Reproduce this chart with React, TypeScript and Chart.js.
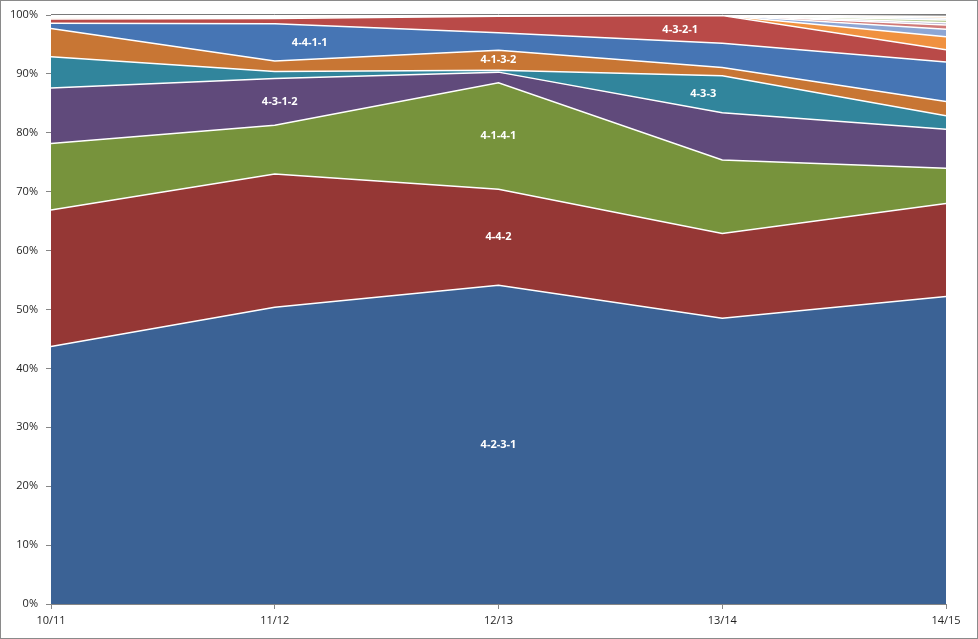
import React, { useEffect, useRef } from "react";
import { Chart, registerables } from "chart.js";

Chart.register(...registerables);

const CATEGORIES = ["10/11", "11/12", "12/13", "13/14", "14/15"];

const s4231 = [43.7, 50.4, 54.1, 48.5, 52.2];
const s442 = [23.2, 22.6, 16.3, 14.4, 15.8];
const s4141 = [11.3, 8.3, 18.1, 12.5, 6.0];
const s4312 = [9.4, 7.9, 1.8, 8.0, 6.6];
const s433 = [5.3, 1.2, 0.3, 6.3, 2.3];
const s4132 = [4.8, 1.8, 3.4, 1.4, 2.4];
const s4411 = [0.9, 6.3, 3.0, 4.1, 6.7];
const s4321 = [0.7, 0.9, 2.8, 4.7, 2.1];
const s451 = [0.2, 0.2, 0.05, 0.02, 2.2];
const s352 = [0.1, 0.1, 0.05, 0.02, 1.3];
const s343 = [0.1, 0.1, 0.03, 0.02, 0.7];
const s4222 = [0.1, 0.05, 0.03, 0.01, 0.4];
const s532 = [0.05, 0.05, 0.02, 0.01, 0.45];
const s3412 = [0.05, 0.05, 0.01, 0.01, 0.3];
const s41212 = [0.05, 0.05, 0.01, 0.01, 0.3];
const s541 = [0.05, 0.0, 0.0, 0.0, 0.25];

const SERIES_NAMES = [
  "4-2-3-1", "4-4-2", "4-1-4-1", "4-3-1-2", "4-3-3", "4-1-3-2", "4-4-1-1", "4-3-2-1",
  "4-5-1", "3-5-2", "3-4-3", "4-2-2-2", "5-3-2", "3-4-1-2", "4-1-2-1-2", "5-4-1",
];
const SERIES_VALUES = [
  s4231, s442, s4141, s4312, s433, s4132, s4411, s4321,
  s451, s352, s343, s4222, s532, s3412, s41212, s541,
];
const SERIES_COLORS = [
  "#3B6295", "#953735", "#77933C", "#604A7B", "#31859C", "#C87634", "#4675B4", "#B94A48",
  "#F0913F", "#8DA6D4", "#D07A78", "#A9A2C6", "#B7CC92", "#A9C4E0", "#F5C9A0", "#8C8C8C",
];

const Y_TICKS = [0, 10, 20, 30, 40, 50, 60, 70, 80, 90, 100];

// labels drawn on series: series index, category index, horizontal nudge
const LABELS = [
  { series: 0, at: 2, dx: 0 },
  { series: 1, at: 2, dx: 0 },
  { series: 2, at: 2, dx: 0 },
  { series: 5, at: 2, dx: 0 },
  { series: 3, at: 1, dx: 5 },
  { series: 6, at: 1, dx: 35 },
  { series: 4, at: 3, dx: -19 },
  { series: 7, at: 3, dx: -42 },
];

const FONT = '"Open Sans", "Liberation Sans", sans-serif';

export default function App() {
  const ref = useRef<HTMLCanvasElement | null>(null);

  useEffect(() => {
    document.body.style.margin = "0";
    const canvas = ref.current;
    if (!canvas) return;

    const labelPlugin = {
      id: "seriesLabels",
      afterDatasetsDraw(chart: any) {
        const ctx = chart.ctx;
        const yScale = chart.scales.y;
        ctx.save();
        // top edge of the stack in gray
        const last = chart.getDatasetMeta(SERIES_NAMES.length - 1).data;
        ctx.strokeStyle = "#7a7a7a";
        ctx.lineWidth = 1;
        ctx.beginPath();
        last.forEach((p: any, i: number) => {
          const y = Math.round(p.y) - 0.5;
          if (i === 0) ctx.moveTo(p.x, y);
          else ctx.lineTo(p.x, y);
        });
        ctx.stroke();

        ctx.font = `bold 11px ${FONT}`;
        ctx.fillStyle = "#ffffff";
        ctx.textAlign = "center";
        ctx.textBaseline = "middle";
        for (const l of LABELS) {
          const meta = chart.getDatasetMeta(l.series);
          const pt = meta.data[l.at];
          const top = pt.y;
          const bottom =
            l.series === 0 ? yScale.getPixelForValue(0) : chart.getDatasetMeta(l.series - 1).data[l.at].y;
          ctx.fillText(SERIES_NAMES[l.series], pt.x + l.dx, (top + bottom) / 2);
        }
        ctx.restore();
      },
    };

    const borderPlugin = {
      id: "outerBorder",
      afterDraw(chart: any) {
        const ctx = chart.ctx;
        ctx.save();
        ctx.strokeStyle = "#8a8a8a";
        ctx.lineWidth = 1;
        ctx.strokeRect(0.5, 0.5, chart.width - 1, chart.height - 1);
        ctx.restore();
      },
    };

    const datasets = SERIES_NAMES.map((name, i) => ({
      label: name,
      data: SERIES_VALUES[i],
      backgroundColor: SERIES_COLORS[i],
      borderColor: "#ffffff",
      borderWidth: i === SERIES_NAMES.length - 1 ? 0 : 1.5,
      fill: i === 0 ? "origin" : "-1",
      pointRadius: 0,
      pointHoverRadius: 0,
      tension: 0,
    }));

    const chart = new Chart(canvas, {
      type: "line",
      data: { labels: CATEGORIES, datasets },
      options: {
        animation: false,
        responsive: false,
        events: [],
        layout: { padding: { left: 0, right: 32, top: 15, bottom: 0 } },
        plugins: {
          legend: { display: false },
          tooltip: { enabled: false },
          title: { display: false },
        },
        scales: {
          x: {
            offset: false,
            grid: {
              display: true,
              drawOnChartArea: false,
              drawTicks: true,
              tickLength: 5,
              color: "#868686",
            },
            border: { display: true, color: "#868686" },
            ticks: {
              color: "#1f1f1f",
              font: { family: FONT, size: 11 },
              padding: 5,
              maxRotation: 0,
              autoSkip: false,
            },
            afterFit(scale: any) {
              scale.height = 35;
            },
          },
          y: {
            stacked: true,
            min: 0,
            max: 100,
            afterBuildTicks(scale: any) {
              scale.ticks = Y_TICKS.map((v) => ({ value: v }));
            },
            grid: {
              display: true,
              drawOnChartArea: false,
              drawTicks: true,
              tickLength: 5,
              color: "#868686",
            },
            border: { display: true, color: "#868686" },
            ticks: {
              color: "#1f1f1f",
              font: { family: FONT, size: 11 },
              padding: 8,
              callback: (v: any) => `${v}%`,
            },
            afterFit(scale: any) {
              scale.width = 51;
            },
          },
        },
      },
      plugins: [labelPlugin, borderPlugin],
    });

    return () => chart.destroy();
  }, []);

  return (
    <div style={{ width: 978, height: 639, background: "#ffffff" }}>
      <canvas ref={ref} width={978} height={639} style={{ display: "block" }} />
    </div>
  );
}
